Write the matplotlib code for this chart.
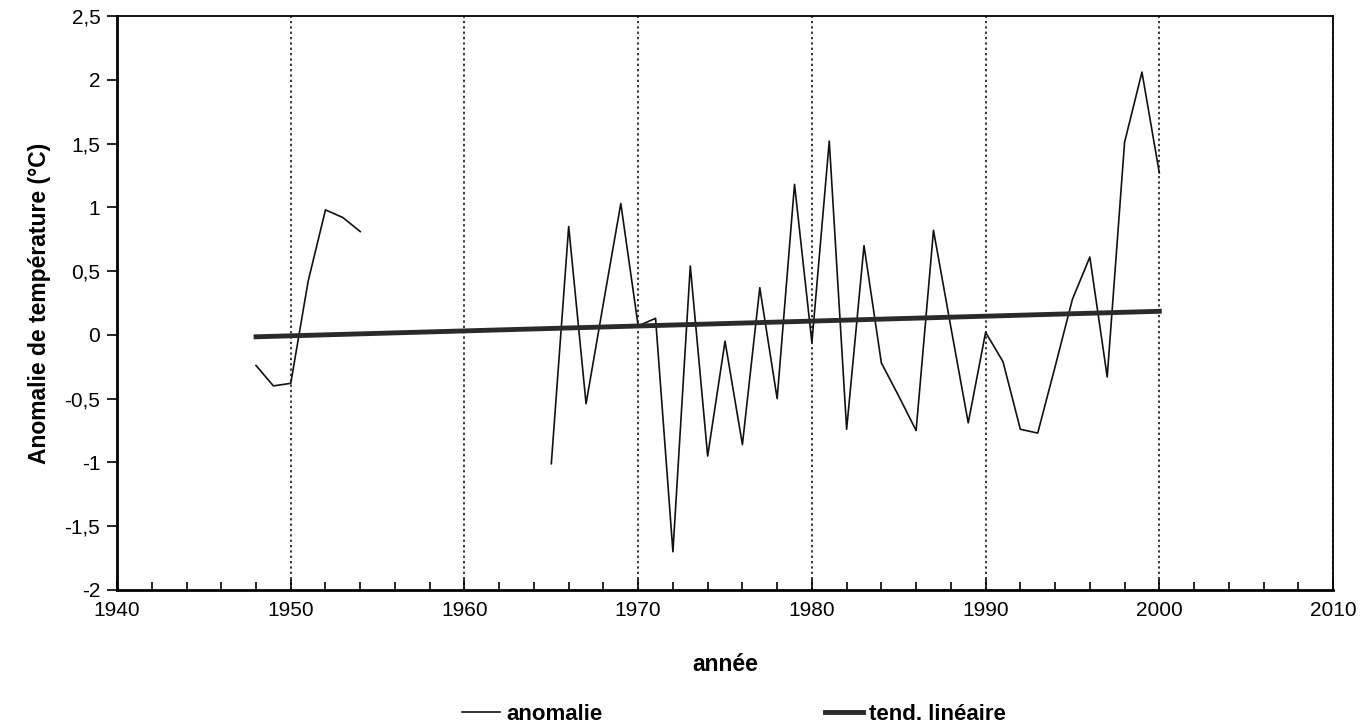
import numpy as np
from matplotlib import pyplot as plt
from matplotlib.ticker import MultipleLocator, FuncFormatter

# yearly temperature anomaly (None = no data)
years = list(range(1948, 2001))
anomalie = [
    -0.24, -0.40, -0.38, 0.42, 0.98, 0.92, 0.81,        # 1948-1954
    None, None, None, None, None, None, None, None, None, None,  # 1955-1964
    -1.01, 0.85, -0.54, 0.25, 1.03,                      # 1965-1969
    0.07, 0.13, -1.70, 0.54, -0.95, -0.05, -0.86, 0.37, -0.50, 1.18,  # 1970-1979
    -0.06, 1.52, -0.74, 0.70, -0.22, -0.48, -0.75, 0.82, 0.06, -0.69,  # 1980-1989
    0.02, -0.21, -0.74, -0.77, -0.25, 0.28, 0.61, -0.33, 1.51, 2.06,   # 1990-1999
    1.27,                                                 # 2000
]
# linear trend end points
trend_years = [1948, 2000]
trend_vals = [-0.015, 0.185]

plt.rcParams['font.family'] = ['Liberation Sans', 'DejaVu Sans']

fig = plt.figure(figsize=(13.72, 7.28), dpi=100)
ax = fig.add_axes([0.0853, 0.1896, 0.8863, 0.7884])

vals = np.array([np.nan if v is None else v for v in anomalie])
ax.plot(years, vals, color='#111111', lw=1.2, label='anomalie')
ax.plot(trend_years, trend_vals, color='#2a2a2a', lw=3.5, label='tend. linéaire')

ax.set_xlim(1940, 2010)
ax.set_ylim(-2, 2.5)

# dotted vertical grid at decades
ax.xaxis.set_major_locator(MultipleLocator(10))
ax.xaxis.set_minor_locator(MultipleLocator(2))
ax.yaxis.set_major_locator(MultipleLocator(0.5))
ax.grid(axis='x', which='major', color='black', linestyle=(0, (1.5, 2)), lw=1.1)

def comma(v, pos):
    s = ('%.1f' % v).rstrip('0').rstrip('.')
    return s.replace('.', ',')

ax.yaxis.set_major_formatter(FuncFormatter(comma))

ax.tick_params(axis='x', which='major', direction='in', length=8, width=1.2,
               labelsize=15, pad=8)
ax.tick_params(axis='x', which='minor', direction='in', length=6, width=1.2)
ax.tick_params(axis='y', which='major', direction='out', length=7, width=1.2,
               labelsize=15, pad=5)

for s in ['left', 'bottom']:
    ax.spines[s].set_linewidth(2)
for s in ['top', 'right']:
    ax.spines[s].set_linewidth(1.3)

ax.set_xlabel('année', fontsize=16.5, fontweight='bold', labelpad=24)
ax.set_ylabel('Anomalie de température (°C)', fontsize=16.5, fontweight='bold', labelpad=10)

fig.legend(loc='lower center', bbox_to_anchor=(0.535, -0.023), ncol=2, frameon=False,
           prop={'size': 16, 'weight': 'bold'}, handlelength=1.7,
           handletextpad=0.3, columnspacing=10)

fig.savefig('out.png', dpi=100)
